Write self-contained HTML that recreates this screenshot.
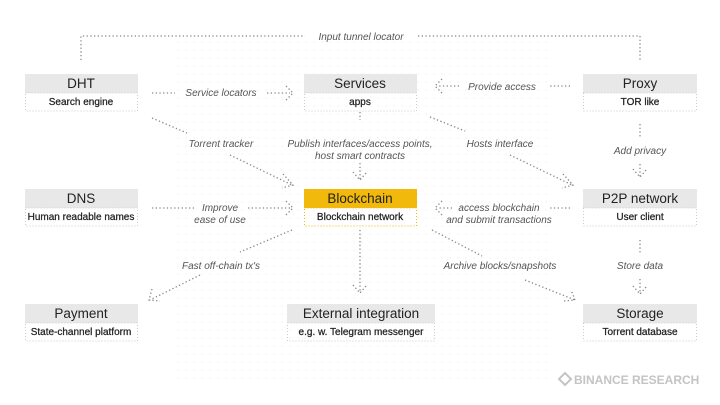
<!DOCTYPE html>
<html><head><meta charset="utf-8"><style>
body{margin:0;background:#fff;}
svg{display:block}
.t{font-family:"Liberation Sans",sans-serif;}
.h{font-size:13.5px;fill:#222;text-anchor:middle}
.s{font-size:10px;fill:#222;text-anchor:middle;stroke:#222;stroke-width:0.25}
.l{font-size:10px;fill:#555;text-anchor:middle;font-style:italic}
.d{stroke:#888;stroke-width:1.3;stroke-dasharray:1.3 2.4;fill:none}
.box{fill:none;stroke:#ccc;stroke-width:1;stroke-dasharray:1 2}
</style></head><body>
<svg width="720" height="405" viewBox="0 0 720 405" class="t">
<defs>
<pattern id="p" width="8" height="8" patternUnits="userSpaceOnUse"><circle cx="2" cy="2" r="0.7" fill="#eee"/></pattern>
</defs>
<rect x="170" y="40" width="380" height="340" fill="url(#p)"/>
<g>
<rect x="25" y="74" width="113" height="19" fill="#e8e8e8"/><rect x="25.5" y="93" width="112" height="18" class="box"/>
<text x="81" y="88" class="h">DHT</text><text x="81" y="105" class="s">Search engine</text>
<rect x="304" y="74" width="113" height="19" fill="#e8e8e8"/><rect x="304.5" y="93" width="112" height="18" class="box"/>
<text x="360" y="88" class="h">Services</text><text x="360" y="105" class="s">apps</text>
<rect x="583" y="74" width="114" height="19" fill="#e8e8e8"/><rect x="583.5" y="93" width="113" height="18" class="box"/>
<text x="640" y="88" class="h">Proxy</text><text x="640" y="105" class="s">TOR like</text>
<rect x="25" y="189" width="113" height="19" fill="#e8e8e8"/><rect x="25.5" y="208" width="112" height="18" class="box"/>
<text x="81" y="203" class="h">DNS</text><text x="81" y="220" class="s">Human readable names</text>
<rect x="304" y="189" width="113" height="19" fill="#f0b90b"/><rect x="304.5" y="208" width="112" height="18" class="box" style="stroke:#f0b90b"/>
<text x="360" y="203" class="h">Blockchain</text><text x="360" y="220" class="s">Blockchain network</text>
<rect x="583" y="189" width="114" height="19" fill="#e8e8e8"/><rect x="583.5" y="208" width="113" height="18" class="box"/>
<text x="640" y="203" class="h">P2P network</text><text x="640" y="220" class="s">User client</text>
<rect x="25" y="304" width="113" height="19" fill="#e8e8e8"/><rect x="25.5" y="323" width="112" height="18" class="box"/>
<text x="81" y="318" class="h">Payment</text><text x="81" y="335" class="s">State-channel platform</text>
<rect x="287" y="304" width="148" height="19" fill="#e8e8e8"/><rect x="287.5" y="323" width="147" height="18" class="box"/>
<text x="361" y="318" class="h">External integration</text><text x="361" y="335" class="s">e.g. w. Telegram messenger</text>
<rect x="583" y="304" width="114" height="19" fill="#e8e8e8"/><rect x="583.5" y="323" width="113" height="18" class="box"/>
<text x="640" y="318" class="h">Storage</text><text x="640" y="335" class="s">Torrent database</text>
</g>
<path class="d" d="M81 60V36H305M418 36H640V60"/>
<text x="361" y="40" class="l">Input tunnel locator</text>
<path class="d" d="M152 93H175M267 93H290M286 86l7 7-7 7"/>
<text x="221" y="96" class="l">Service locators</text>
<path class="d" d="M570 86H548M459 86H438M442 79l-7 7 7 7"/>
<text x="502" y="90" class="l">Provide access</text>
<path class="d" d="M152 118L187 133M230 155L292 185M283 174l10 11-11 3"/>
<text x="221" y="147" class="l">Torrent tracker</text>
<path class="d" d="M360 112V120M360 163V180M353 172l7 8 7-8"/>
<text x="360" y="147" class="l">Publish interfaces/access points,</text>
<text x="360" y="159" class="l">host smart contracts</text>
<path class="d" d="M430 117L465 131M510 155L572 185M563 174l10 11-11 3"/>
<text x="500" y="147" class="l">Hosts interface</text>
<path class="d" d="M640 124V137M640 164V178M633 169l7 8 7-8"/>
<text x="640" y="154" class="l">Add privacy</text>
<path class="d" d="M152 208H195M248 208H290M286 201l7 7-7 7"/>
<text x="220" y="211" class="l">Improve</text><text x="220" y="223" class="l">ease of use</text>
<path class="d" d="M570 208H550M452 208H438M442 201l-7 7 7 7"/>
<text x="499" y="211" class="l">access blockchain</text><text x="499" y="223" class="l">and submit transactions</text>
<path class="d" d="M292 230L240 252M200 275L150 300M152 289l-3 11 11 1"/>
<text x="221" y="269" class="l">Fast off-chain tx's</text>
<path class="d" d="M360 230V293M353 285l7 8 7-8"/>
<path class="d" d="M432 230L482 256M525 280L575 300M564 301l11-1-4-10"/>
<text x="500" y="269" class="l">Archive blocks/snapshots</text>
<path class="d" d="M640 240V253M640 279V294M633 286l7 8 7-8"/>
<text x="640" y="269" class="l">Store data</text>
<g transform="translate(565,379)"><path d="M0 -6L6 0L0 6L-6 0Z" fill="none" stroke="#c4c4c4" stroke-width="2"/></g>
<text x="574" y="384" style="font-size:12px;font-weight:bold;fill:#c4c4c4;">BINANCE RESEARCH</text>
</svg>
</body></html>
